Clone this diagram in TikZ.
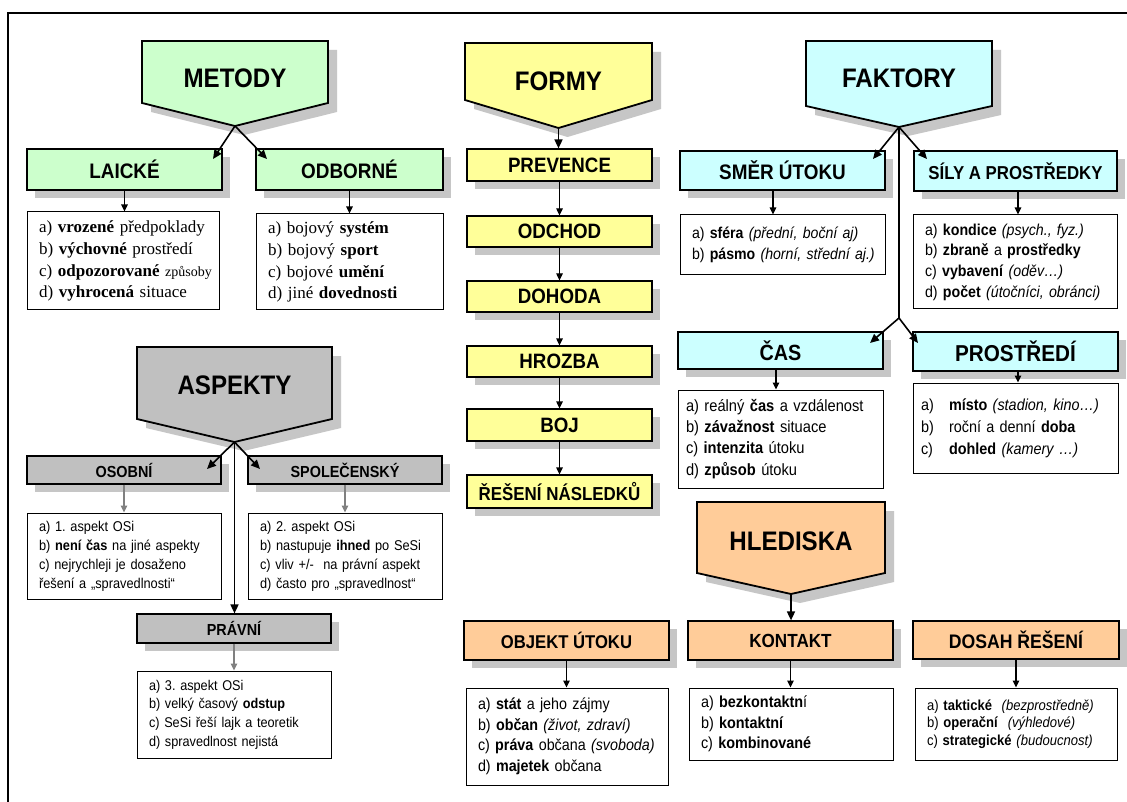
\documentclass[tikz,border=0pt]{standalone}
\usepackage{fontspec}
\setmainfont{Liberation Sans}[FakeStretch=0.9]
\newfontfamily\serifont{Liberation Serif}
\usetikzlibrary{arrows.meta,shadows,calc}
\frenchspacing

\definecolor{cgreen}{RGB}{204,255,204}
\definecolor{cyellow}{RGB}{255,255,153}
\definecolor{ccyan}{RGB}{204,255,255}
\definecolor{cgray}{RGB}{192,192,192}
\definecolor{corange}{RGB}{255,204,153}
\definecolor{cshadow}{RGB}{198,198,198}

\tikzset{
  hdrbox/.style={draw=black, line width=1.2pt, rectangle, inner sep=0pt, font=\bfseries,
    general shadow={fill=cshadow, shadow xshift=8pt, shadow yshift=-8pt}},
  listbox/.style={draw=black, line width=1pt, fill=white, rectangle, inner xsep=12pt, inner ysep=0pt, align=left},
  arrm/.style={line width=1.6pt, -{Triangle[length=9pt,width=8pt]}},
  arrs/.style={line width=1.2pt, -{Triangle[length=7pt,width=6.5pt]}},
  arrg/.style={arrs, color=black!50},
  pentline/.style={draw=black, line width=1.8pt, line join=miter}
}

\newcommand{\pent}[9]{%
  \pgfmathsetmacro\myMX{(#2+#3)/2}%
  \fill[cshadow, shift={(9pt,-9pt)}] (#2,#4) -- (#3,#4) -- (#3,#5) -- (\myMX,#6) -- (#2,#5) -- cycle;
  \filldraw[fill=#7, pentline] (#2,#4) -- (#3,#4) -- (#3,#5) -- (\myMX,#6) -- (#2,#5) -- cycle;
  \coordinate (#1tip) at (\myMX,#6);
  \node[font=\bfseries\fontsize{26.8}{30}\selectfont, inner sep=0pt] (#1) at (\myMX,#9) {#8};}

\newcommand{\hdr}[7]{%
  \pgfmathsetmacro\myBW{#3-#2}\pgfmathsetmacro\myBH{#5-#4}%
  \pgfmathsetmacro\myCX{(#2+#3)/2}\pgfmathsetmacro\myCY{(#4+#5)/2}%
  \node[hdrbox, fill=#6, minimum width=\myBW pt, minimum height=\myBH pt] (#1) at (\myCX,\myCY) {#7};}

\newcommand{\lst}[7]{%
  \pgfmathsetmacro\myTW{#3-#2-24}\pgfmathsetmacro\myBH{#5-#4}%
  \pgfmathsetmacro\myCX{(#2+#3)/2}\pgfmathsetmacro\myCY{(#4+#5)/2}%
  \node[listbox, text width=\myTW pt, minimum height=\myBH pt, font={#6}] (#1) at (\myCX,\myCY)
    {\begin{tabular}{@{}l@{}}#7\end{tabular}};}

\newcommand{\fs}[1]{\fontsize{#1}{#1}\selectfont}
\newcommand{\lb}[1]{\makebox[24pt][l]{\hspace*{-4pt}#1}}

\begin{document}
\begin{tikzpicture}[x=1pt,y=-1pt]
\useasboundingbox (0,0) rectangle (1127,802);
\fill[white] (0,0) rectangle (1127,802);
\draw[line width=2pt] (8,815) -- (8,12.7) -- (1140,12.7);

% ---------- METODY ----------
\pent{metody}{142}{328}{41}{103}{126}{cgreen}{METODY}{78}
\hdr{laicke}{27}{222}{149}{190}{cgreen}{\fs{21}LAICKÉ}
\hdr{odborne}{256}{443}{149}{190}{cgreen}{\fs{21}ODBORNÉ}
\lst{laickeL}{27}{219}{212}{310}{\fontsize{17}{21.7}\selectfont\serifont}{%
  a) \textbf{vrozené} předpoklady\\
  b) \textbf{výchovné} prostředí\\
  c) \textbf{odpozorované} {\fontsize{14}{21.7}\selectfont způsoby}\\
  d) \textbf{vyhrocená} situace}
\lst{odborneL}{256}{443}{214}{310}{\fontsize{17}{21.7}\selectfont\serifont}{%
  a) bojový \textbf{systém}\\
  b) bojový \textbf{sport}\\
  c) bojové \textbf{umění}\\
  d) jiné \textbf{dovednosti}}
\coordinate (m1) at (213,159);
\coordinate (m2) at (267,159);
\draw[arrm] (metodytip) -- (m1);
\draw[arrm] (metodytip) -- (m2);
\draw[arrs] (laicke.south) -- (laicke.south |- laickeL.north);
\draw[arrs] (odborne.south) -- (odborne.south |- odborneL.north);

% ---------- FORMY ----------
\pent{formy}{465}{652}{43}{100}{128}{cyellow}{FORMY}{81}
\hdr{prevence}{467}{652}{149}{181}{cyellow}{\fs{20.8}PREVENCE}
\hdr{odchod}{467}{652}{216}{247}{cyellow}{\fs{20.8}ODCHOD}
\hdr{dohoda}{467}{652}{281}{312}{cyellow}{\fs{20.8}DOHODA}
\hdr{hrozba}{467}{652}{346}{377}{cyellow}{\fs{20.8}HROZBA}
\hdr{boj}{467}{652}{409}{441}{cyellow}{\fs{20.8}BOJ}
\hdr{reseni}{467}{652}{475}{508}{cyellow}{\fs{18.8}ŘEŠENÍ NÁSLEDKŮ}
\draw[arrm] (formytip) -- (formytip |- prevence.north);
\draw[arrs] (prevence.south) -- (odchod.north);
\draw[arrs] (odchod.south) -- (dohoda.north);
\draw[arrs] (dohoda.south) -- (hrozba.north);
\draw[arrs] (hrozba.south) -- (boj.north);
\draw[arrs] (boj.south) -- (reseni.north);

% ---------- FAKTORY ----------
\pent{faktory}{806}{992}{41}{106}{127}{ccyan}{FAKTORY}{78}
\hdr{smer}{680}{885}{151}{190}{ccyan}{\fs{21}SMĚR ÚTOKU}
\hdr{sily}{914}{1117}{151}{191}{ccyan}{\fs{18.7}SÍLY A PROSTŘEDKY}
\lst{smerL}{680}{885}{215}{275}{\fontsize{15.7}{21}\selectfont}{%
  a) \textbf{sféra} \textit{(přední, boční aj)}\\
  b) \textbf{pásmo} \textit{(horní, střední aj.)}}
\lst{silyL}{913}{1117}{215}{309}{\fontsize{15.8}{20.7}\selectfont}{%
  a) \textbf{kondice} \textit{(psych., fyz.)}\\
  b) \textbf{zbraně} a \textbf{prostředky}\\
  c) \textbf{vybavení} \textit{(oděv…)}\\
  d) \textbf{počet} \textit{(útočníci, obránci)}}
\hdr{cas}{678}{883}{332}{369}{ccyan}{\fs{22}ČAS}
\hdr{prostredi}{913}{1118}{332}{371}{ccyan}{\fs{23}PROSTŘEDÍ}
\lst{casL}{678}{883}{390}{488}{\fontsize{16.3}{21.3}\selectfont}{%
  \hspace*{-4pt}a) reálný \textbf{čas} a vzdálenost\\
  \hspace*{-4pt}b) \textbf{závažnost} situace\\
  \hspace*{-4pt}c) \textbf{intenzita} útoku\\
  \hspace*{-4pt}d) \textbf{způsob} útoku}
\lst{prostrediL}{913}{1118}{383}{473}{\fontsize{16}{22}\selectfont}{%
  \lb{a)}\textbf{místo} \textit{(stadion, kino…)}\\
  \lb{b)}roční a denní \textbf{doba}\\
  \lb{c)}\textbf{dohled} \textit{(kamery …)}}
\coordinate (f1) at (873,159);
\coordinate (f2) at (927,159);
\coordinate (fbr) at (899,318);
\coordinate (f3) at (870,343);
\coordinate (f4) at (918,343);
\draw[arrm] (faktorytip) -- (f1);
\draw[arrm] (faktorytip) -- (f2);
\draw[line width=1.6pt] (faktorytip) -- (fbr);
\draw[arrm] (fbr) -- (f3);
\draw[arrm] (fbr) -- (f4);
\draw[arrs] ([xshift=-9.5pt]smer.south) -- ([xshift=-9.5pt]smer.south |- smerL.north);
\draw[arrs] ([xshift=2.5pt]sily.south) -- ([xshift=2.5pt]sily.south |- silyL.north);
\draw[arrs] ([xshift=-4.5pt]cas.south) -- ([xshift=-4.5pt]cas.south |- casL.north);
\draw[arrs] ([xshift=2.5pt]prostredi.south) -- ([xshift=2.5pt]prostredi.south |- prostrediL.north);

% ---------- ASPEKTY ----------
\pent{aspekty}{137}{332}{347}{419}{442}{cgray}{ASPEKTY}{385}
\hdr{osobni}{27}{221}{456}{484}{cgray}{\fs{16}OSOBNÍ}
\hdr{spol}{248}{442}{456}{484}{cgray}{\fs{16}SPOLEČENSKÝ}
\lst{osobniL}{27}{221}{513}{599}{\fontsize{14.2}{19.2}\selectfont}{%
  a) 1. aspekt OSi\\
  b) \textbf{není čas} na jiné aspekty\\
  c) nejrychleji je dosaženo\\
  řešení a „spravedlnosti“}
\lst{spolL}{248}{442}{513}{599}{\fontsize{14.2}{19.2}\selectfont}{%
  a) 2. aspekt OSi\\
  b) nastupuje \textbf{ihned} po SeSi\\
  c) vliv +/-\ \ na právní aspekt\\
  d) často pro „spravedlnost“}
\hdr{pravni}{137}{331}{614}{643}{cgray}{\fs{16}PRÁVNÍ}
\lst{pravniL}{137}{331}{671}{758}{\fontsize{14.1}{18.7}\selectfont}{%
  a) 3. aspekt OSi\\
  b) velký časový \textbf{odstup}\\
  c) SeSi řeší lajk a teoretik\\
  d) spravedlnost nejistá}
\coordinate (a1) at (207,469);
\coordinate (a2) at (260,469);
\draw[arrm] (aspektytip) -- (a1);
\draw[arrm] (aspektytip) -- (a2);
\draw[arrm] (aspektytip) -- (aspektytip |- pravni.north);
\draw[arrg] (osobni.south) -- (osobni.south |- osobniL.north);
\draw[arrg] (spol.south) -- (spol.south |- spolL.north);
\draw[arrg] (pravni.south) -- (pravni.south |- pravniL.north);

% ---------- HLEDISKA ----------
\pent{hlediska}{697}{885}{502}{573}{594}{corange}{HLEDISKA}{541}
\hdr{objekt}{464}{669}{621}{660}{corange}{\fs{18.5}OBJEKT ÚTOKU}
\hdr{kontakt}{688}{893}{621}{660}{corange}{\fs{19}KONTAKT}
\hdr{dosah}{913}{1119}{621}{659}{corange}{\fs{19.6}DOSAH ŘEŠENÍ}
\lst{objektL}{466}{668}{688}{785}{\fontsize{15.9}{20.4}\selectfont}{%
  a) \textbf{stát} a jeho zájmy\\
  b) \textbf{občan} \textit{(život, zdraví)}\\
  c) \textbf{práva} občana \textit{(svoboda)}\\
  d) \textbf{majetek} občana}
\lst{kontaktL}{689}{893}{688}{760}{\fontsize{16}{20.5}\selectfont}{%
  a) \textbf{bezkontaktn}í\\
  b) \textbf{kontaktní}\\
  c) \textbf{kombinované}}
\lst{dosahL}{915}{1117}{688}{760}{\fontsize{14.5}{17.5}\selectfont}{%
  a) \textbf{taktické}\ \ \textit{(bezprostředně)}\\
  b) \textbf{operační}\ \ \textit{(výhledové)}\\
  c) \textbf{strategické} \textit{(budoucnost)}}
\draw[arrm] (hlediskatip) -- (hlediskatip |- kontakt.north);
\draw[arrs] (objekt.south) -- (objekt.south |- objektL.north);
\draw[arrs] (kontakt.south) -- (kontakt.south |- kontaktL.north);
\draw[arrs] (dosah.south) -- (dosah.south |- dosahL.north);
\end{tikzpicture}
\end{document}
